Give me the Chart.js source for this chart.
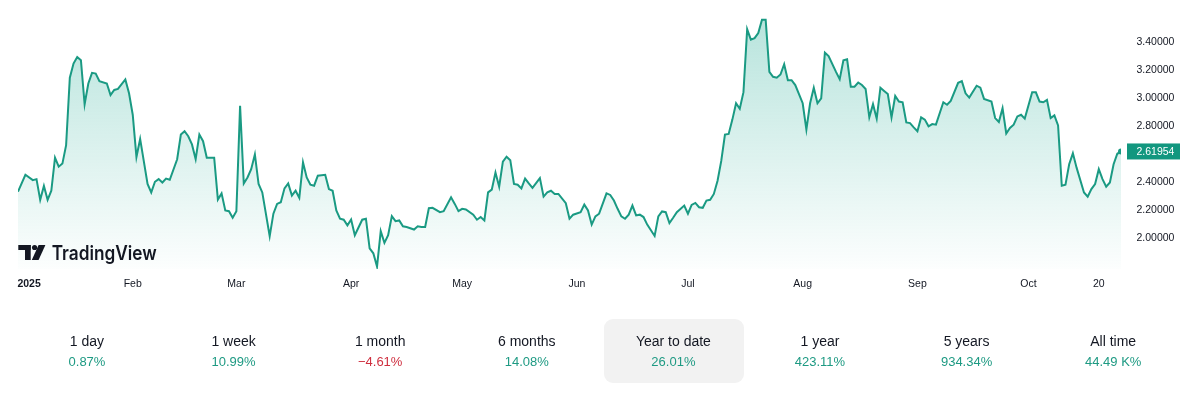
<!DOCTYPE html>
<html>
<head>
<meta charset="utf-8">
<script src="https://cdn.jsdelivr.net/npm/chart.js@4.4.0/dist/chart.umd.min.js"></script>
<style>
  html, body { margin:0; padding:0; background:#ffffff; width:1200px; height:397px; overflow:hidden; }
  #wrap { position:absolute; left:0; top:0; width:1200px; height:300px; }
  #stats { position:absolute; left:0; top:0; width:1200px; height:397px; pointer-events:none; }
  .cell { position:absolute; top:319px; height:64px; text-align:center;
          font-family:"Liberation Sans",Arial,sans-serif; }
  .hl { position:absolute; top:319px; left:604px; width:140px; height:64px; background:#f2f2f2; border-radius:9px; }
  .lab { position:absolute; left:0; right:0; top:13px; line-height:18px; font-size:14px; color:#131722; }
  .val { position:absolute; left:0; right:0; top:34px; line-height:18px; font-size:13px; color:#1e9a83; }
  .neg { color:#cf2f3f; }
</style>
</head>
<body>
<div id="wrap"><canvas id="c" width="1200" height="300"></canvas></div>
<div id="stats"></div>
<script>
// ---- data (day index counted from 1 Jan 2025) ----
const days = [
  0,2,4,5,6,7,8,9,10,11,
  12,13,14,15,16,17,18,19,20,21,
  22,24,25,26,27,29,30,31,32,33,
  35,36,37,38,39,40,41,43,44,45,
  46,47,48,49,50,51,53,54,55,56,
  57,58,59,60,61,62,63,64,65,66,
  68,69,70,71,72,73,74,75,76,77,
  78,79,80,81,83,84,85,86,87,88,
  89,90,91,93,94,95,96,97,98,99,
  100,101,102,103,104,105,107,108,109,110,
  111,112,114,115,117,118,119,120,121,123,
  124,125,126,127,128,129,130,131,132,133,
  134,135,136,137,138,139,141,142,143,144,
  145,146,148,149,150,152,153,154,155,156,
  157,159,160,161,162,163,164,165,166,167,
  168,169,170,172,173,174,175,176,177,178,
  180,181,182,183,184,185,186,187,188,189,
  190,191,192,193,194,195,196,197,198,199,
  200,201,202,203,204,205,206,207,208,209,
  210,212,213,214,215,216,217,218,219,221,
  222,223,224,225,226,227,228,229,230,231,
  232,233,234,235,236,237,238,239,240,241,
  242,243,244,245,246,247,248,250,251,252,
  254,255,256,257,259,260,261,263,264,265,
  266,267,268,269,270,271,272,274,275,276,
  277,278,279,280,281,282,283,284,285,286,
  288,289,290,291,292,293,294,295,296,297,298
];
const prices = [
  2.332,2.453,2.415,2.422,2.274,2.373,2.274,2.339,2.575,2.511,
  2.533,2.665,3.146,3.247,3.294,3.271,2.957,3.105,3.181,3.176,
  3.122,3.105,3.023,3.059,3.066,3.134,3.035,2.882,2.580,2.709,
  2.387,2.327,2.403,2.422,2.398,2.426,2.417,2.564,2.740,2.764,
  2.728,2.670,2.564,2.740,2.693,2.575,2.575,2.276,2.320,2.198,
  2.193,2.146,2.193,2.946,2.391,2.434,2.493,2.599,2.387,2.327,
  2.014,2.175,2.245,2.257,2.356,2.391,2.304,2.339,2.288,2.542,
  2.434,2.382,2.375,2.446,2.453,2.351,2.339,2.198,2.139,2.132,
  2.092,2.134,2.021,2.132,2.139,1.927,1.892,1.797,2.050,1.967,
  2.021,2.158,2.122,2.127,2.085,2.080,2.062,2.085,2.080,2.080,
  2.214,2.217,2.186,2.193,2.292,2.245,2.193,2.210,2.205,2.168,
  2.132,2.151,2.127,2.327,2.347,2.469,2.368,2.547,2.582,2.557,
  2.387,2.382,2.356,2.426,2.391,2.359,2.429,2.297,2.327,2.339,
  2.316,2.316,2.250,2.139,2.168,2.186,2.240,2.198,2.097,2.156,
  2.175,2.320,2.309,2.269,2.210,2.156,2.139,2.168,2.233,2.163,
  2.168,2.151,2.097,2.016,2.156,2.191,2.186,2.108,2.146,2.186,
  2.233,2.175,2.238,2.252,2.221,2.217,2.269,2.274,2.316,2.410,
  2.552,2.740,2.745,2.847,2.964,2.924,3.043,3.492,3.418,3.429,
  3.466,3.561,3.561,3.188,3.153,3.146,3.169,3.243,3.129,3.129,
  3.094,2.964,2.776,2.964,3.075,2.964,2.999,3.325,3.301,3.188,
  3.136,3.271,3.278,3.082,3.082,3.112,3.094,3.066,2.863,2.957,
  2.854,3.075,3.052,3.030,2.863,3.016,2.976,2.971,2.827,2.822,
  2.792,2.764,2.863,2.847,2.799,2.815,2.811,2.971,2.953,2.981,
  3.110,3.122,3.035,3.004,3.089,3.075,2.995,2.976,2.858,2.830,
  2.929,2.748,2.787,2.811,2.870,2.882,2.854,3.042,3.042,2.976,
  2.971,2.988,2.858,2.877,2.806,2.375,2.382,2.528,2.606,2.504,
  2.327,2.297,2.351,2.387,2.493,2.422,2.368,2.398,2.528,2.603,2.61954
];
const xTickDays   = [3, 31, 59, 90, 120, 151, 181, 212, 243, 273, 292];
const xTickLabels = ["2025","Feb","Mar","Apr","May","Jun","Jul","Aug","Sep","Oct","20"];
const yTickValues = [2.0, 2.2, 2.4, 2.8, 3.0, 3.2, 3.4];
const statLabels = ["1 day","1 week","1 month","6 months","Year to date","1 year","5 years","All time"];
const statValues = ["0.87%","10.99%","\u22124.61%","14.08%","26.01%","423.11%","934.34%","44.49 K%"];
const statNegative = [false,false,true,false,false,false,false,false];

// ---- stats row ----
const stats = document.getElementById('stats');
const hl = document.createElement('div'); hl.className = 'hl'; stats.appendChild(hl);
statLabels.forEach((l, i) => {
  const c = document.createElement('div');
  c.className = 'cell';
  c.style.left = (13.7 + i * 146.6) + 'px';
  c.style.width = '146.6px';
  const a = document.createElement('div'); a.className = 'lab'; a.textContent = l;
  const b = document.createElement('div'); b.className = 'val' + (statNegative[i] ? ' neg' : ''); b.textContent = statValues[i];
  c.appendChild(a); c.appendChild(b); stats.appendChild(c);
});

// ---- chart ----
const FONT = '"Liberation Sans",Arial,sans-serif';
const LINE = '#1a9a83';

const overlay = {
  id: 'overlay',
  afterDatasetsDraw(chart) {
    const ctx = chart.ctx, ys = chart.scales.y;
    ctx.save();
    // TradingView watermark
    ctx.fillStyle = '#131722';
    ctx.fillRect(18.3, 245, 12.4, 5);
    ctx.fillRect(25, 245, 5.7, 15);
    ctx.beginPath(); ctx.arc(34.6, 247.5, 2.6, 0, Math.PI * 2); ctx.fill();
    ctx.beginPath();
    ctx.moveTo(38.6, 245); ctx.lineTo(45.4, 245); ctx.lineTo(38.6, 260); ctx.lineTo(31.8, 260);
    ctx.closePath(); ctx.fill();
    ctx.font = '600 20px Inter, "Liberation Sans", sans-serif';
    ctx.textBaseline = 'alphabetic';
    ctx.textAlign = 'left';
    ctx.fillText('TradingView', 51.7, 260, 105);
    // last price label
    const last = prices[prices.length - 1];
    const py = ys.getPixelForValue(last);
    ctx.fillStyle = '#12977f';
    ctx.fillRect(1127, py - 8, 53, 16);
    ctx.fillStyle = '#ffffff';
    ctx.font = '10.5px ' + FONT;
    ctx.textBaseline = 'middle';
    ctx.fillText(last.toFixed(5), 1136.5, py + 0.5);
    ctx.restore();
  }
};

new Chart(document.getElementById('c'), {
  type: 'line',
  data: {
    datasets: [{
      data: days.map((d, i) => ({ x: d, y: prices[i] })),
      borderColor: LINE,
      borderWidth: 2,
      tension: 0,
      fill: 'start',
      backgroundColor: (ctx) => {
        const a = ctx.chart.chartArea;
        if (!a) return 'rgba(34,171,148,0.15)';
        const g = ctx.chart.ctx.createLinearGradient(0, a.top, 0, a.bottom);
        g.addColorStop(0, 'rgba(34,171,148,0.34)');
        g.addColorStop(1, 'rgba(34,171,148,0.01)');
        return g;
      },
      pointRadius: (c) => c.dataIndex === prices.length - 1 ? 3 : 0,
      pointBackgroundColor: LINE,
      pointBorderWidth: 0,
      pointHoverRadius: 0
    }]
  },
  options: {
    responsive: false,
    animation: false,
    events: [],
    layout: { padding: { left: 18, top: 0, right: 0, bottom: 0 } },
    plugins: { legend: { display: false }, tooltip: { enabled: false } },
    scales: {
      x: {
        type: 'linear', min: 0, max: 298,
        grid: { display: false, drawTicks: false },
        border: { display: false },
        afterBuildTicks: (s) => { s.ticks = xTickDays.map(v => ({ value: v })); },
        afterFit: (s) => { s.height = 31; s.paddingLeft = 0; s.paddingRight = 0; },
        ticks: {
          autoSkip: false, maxRotation: 0, padding: 9, color: '#131722',
          callback: (v, i) => xTickLabels[i],
          font: (c) => ({ family: FONT, size: 10.5, weight: c.index === 0 ? 'bold' : 'normal' })
        }
      },
      y: {
        position: 'right', min: 1.78, max: 3.68,
        grid: { display: false, drawTicks: false },
        border: { display: false },
        afterBuildTicks: (s) => { s.ticks = yTickValues.map(v => ({ value: v })); },
        afterFit: (s) => { s.width = 79; s.paddingTop = 0; s.paddingBottom = 0; },
        ticks: {
          padding: 15.5, color: '#131722',
          font: { family: FONT, size: 10.5 },
          callback: (v) => Number(v).toFixed(5)
        }
      }
    }
  },
  plugins: [overlay]
});
</script>
</body>
</html>
